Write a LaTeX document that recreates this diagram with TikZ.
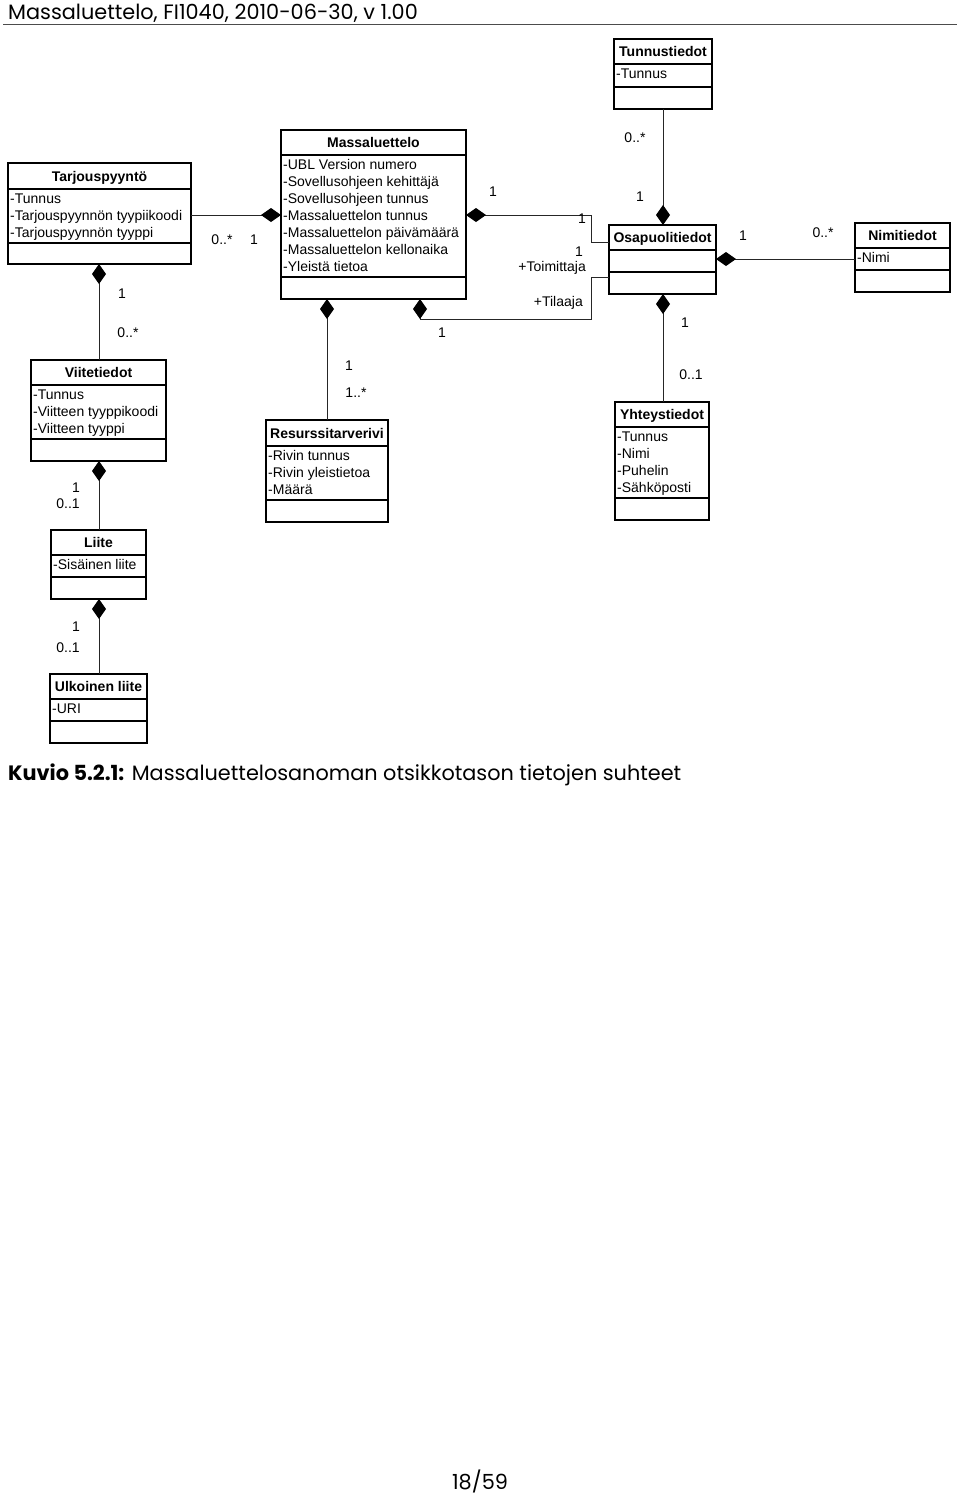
\documentclass[tikz,border=0pt]{standalone}
\usepackage{fontspec}
\setmainfont{Liberation Sans}
\newfontfamily\gothic{Poppins}
\usetikzlibrary{arrows.meta,fit}

\tikzset{
  box/.style={draw=black, line width=1.3pt, inner sep=0pt},
  sepline/.style={draw=black, line width=1.3pt},
  txt/.style={font=\fontsize{14}{17}\selectfont, text height=10pt, text depth=0pt, inner sep=0pt},
  ttl/.style={txt, font=\fontsize{14}{17}\selectfont\bfseries},
  attr/.style={txt, anchor=west},
  lbl/.style={txt},
  conn/.style={draw=black!85, line width=1pt},
  comp/.style={conn, {Diamond[length=20pt,width=14pt,color=black]}-},
  pagefont/.style={font=\gothic\fontsize{20.8}{24}\selectfont, inner sep=0pt},
}

% #1 name, #2 x1, #3 y1, #4 x2, #5 y2, #6 header line, #7 separator, #8 title, #9 attributes
\newcommand\umlclass[9]{%
  \node[box, fit={(#2,#3)(#4,#5)}] (#1) {};
  \draw[sepline] (#2,#6) -- (#4,#6);
  \draw[sepline] (#2,#7) -- (#4,#7);
  \node[ttl] (#1-t) at ({(#2+#4)/2},{(#3+#6)/2}) {#8};
  \foreach \a [count=\i] in {#9} {
    \node[attr] (#1-a\i) at ({#2+2},{#6+9.5+17*(\i-1)}) {\a};
  }
}

\begin{document}
\begin{tikzpicture}[x=1pt,y=-1pt]
\useasboundingbox (0,0) rectangle (960,1497);

% page header
\node[pagefont, anchor=base west] (hdr) at (8,19) {Massaluettelo, FI1040, 2010-06-30, v 1.00};
\coordinate (ruleL) at (3,24.5);
\coordinate (ruleR) at (957,24.5);
\draw[black!70, line width=0.8pt] (ruleL) -- (ruleR);

% classes
\umlclass{tarj}{8}{163}{191}{264}{189}{243}{Tarjouspyyntö}{-Tunnus,-Tarjouspyynnön tyypiikoodi,-Tarjouspyynnön tyyppi}
\umlclass{mass}{281}{130}{466}{299}{155}{277}{Massaluettelo}{-UBL Version numero,-Sovellusohjeen kehittäjä,-Sovellusohjeen tunnus,-Massaluettelon tunnus,-Massaluettelon päivämäärä,-Massaluettelon kellonaika,-Yleistä tietoa}
\umlclass{tunn}{614}{39}{712}{109}{64}{87}{Tunnustiedot}{-Tunnus}
\umlclass{osap}{609}{225}{716}{294}{250}{272}{Osapuolitiedot}{}
\umlclass{nimi}{855}{223}{950}{292}{248}{270}{Nimitiedot}{-Nimi}
\umlclass{viit}{31}{360}{166}{461}{385}{439}{Viitetiedot}{-Tunnus,-Viitteen tyyppikoodi,-Viitteen tyyppi}
\umlclass{resu}{266}{420}{388}{522}{446}{500}{Resurssitarverivi}{-Rivin tunnus,-Rivin yleistietoa,-Määrä}
\umlclass{yhte}{615}{402}{709}{520}{427}{498}{Yhteystiedot}{-Tunnus,-Nimi,-Puhelin,-Sähköposti}
\umlclass{liit}{51}{530}{146}{599}{555}{577}{Liite}{-Sisäinen liite}
\umlclass{ulko}{50}{674}{147}{743}{699}{721}{Ulkoinen liite}{-URI}

% connector end points
\coordinate (mW) at (281,215);
\coordinate (tE) at (191,215);
\coordinate (mE) at (466,215);
\coordinate (oW1) at (609,242);
\coordinate (mS2) at (420,299);
\coordinate (mS2b) at (420,319);
\coordinate (oW2) at (609,277);
\coordinate (mS1) at (327,299);
\coordinate (rN) at (327,420);
\coordinate (tS) at (99,264);
\coordinate (vN) at (99,360);
\coordinate (vS) at (99,461);
\coordinate (lN) at (99,530);
\coordinate (lS) at (99,599);
\coordinate (uN) at (99,674);
\coordinate (oN) at (663,225);
\coordinate (tuS) at (663,109);
\coordinate (oE) at (716,259);
\coordinate (nW) at (855,259);
\coordinate (oS) at (663,294);
\coordinate (yN) at (663,402);

% connectors
\draw[comp] (mW) -- (tE);
\draw[comp] (mE) -- ++(125,0) |- (oW1);
\draw[comp] (mS2) -- (mS2b);
\draw[conn] (mS2b) -- ++(171,0) |- (oW2);
\draw[comp] (mS1) -- (rN);
\draw[comp] (tS) -- (vN);
\draw[comp] (vS) -- (lN);
\draw[comp] (lS) -- (uN);
\draw[comp] (oN) -- (tuS);
\draw[comp] (oE) -- (nW);
\draw[comp] (oS) -- (yN);

% multiplicities and roles
\node[lbl] (l1) at (222,239) {0..*};
\node[lbl] (l2) at (254,239) {1};
\node[lbl] (l3) at (122,293) {1};
\node[lbl] (l4) at (128,332) {0..*};
\node[lbl] (l5) at (493,191) {1};
\node[lbl] (l6) at (582,218) {1};
\node[lbl] (l7) at (579,251) {1};
\node[lbl, anchor=east] (l8) at (586,266) {+Toimittaja};
\node[lbl, anchor=east] (l9) at (583,301) {+Tilaaja};
\node[lbl] (l10) at (442,332) {1};
\node[lbl] (l11) at (349,365) {1};
\node[lbl] (l12) at (356,392) {1..*};
\node[lbl] (l13) at (635,137) {0..*};
\node[lbl] (l14) at (640,196) {1};
\node[lbl] (l15) at (743,235) {1};
\node[lbl] (l16) at (823,232) {0..*};
\node[lbl] (l17) at (685,322) {1};
\node[lbl] (l18) at (691,374) {0..1};
\node[lbl] (l19) at (76,487) {1};
\node[lbl] (l20) at (68,503) {0..1};
\node[lbl] (l21) at (76,626) {1};
\node[lbl] (l22) at (68,647) {0..1};

% caption and page number
\node[pagefont, anchor=base west] (cap) at (8,780) {\textbf{Kuvio 5.2.1:} Massaluettelosanoman otsikkotason tietojen suhteet};
\node[pagefont, anchor=base] (pg) at (480,1489) {18/59};
\end{tikzpicture}
\end{document}
